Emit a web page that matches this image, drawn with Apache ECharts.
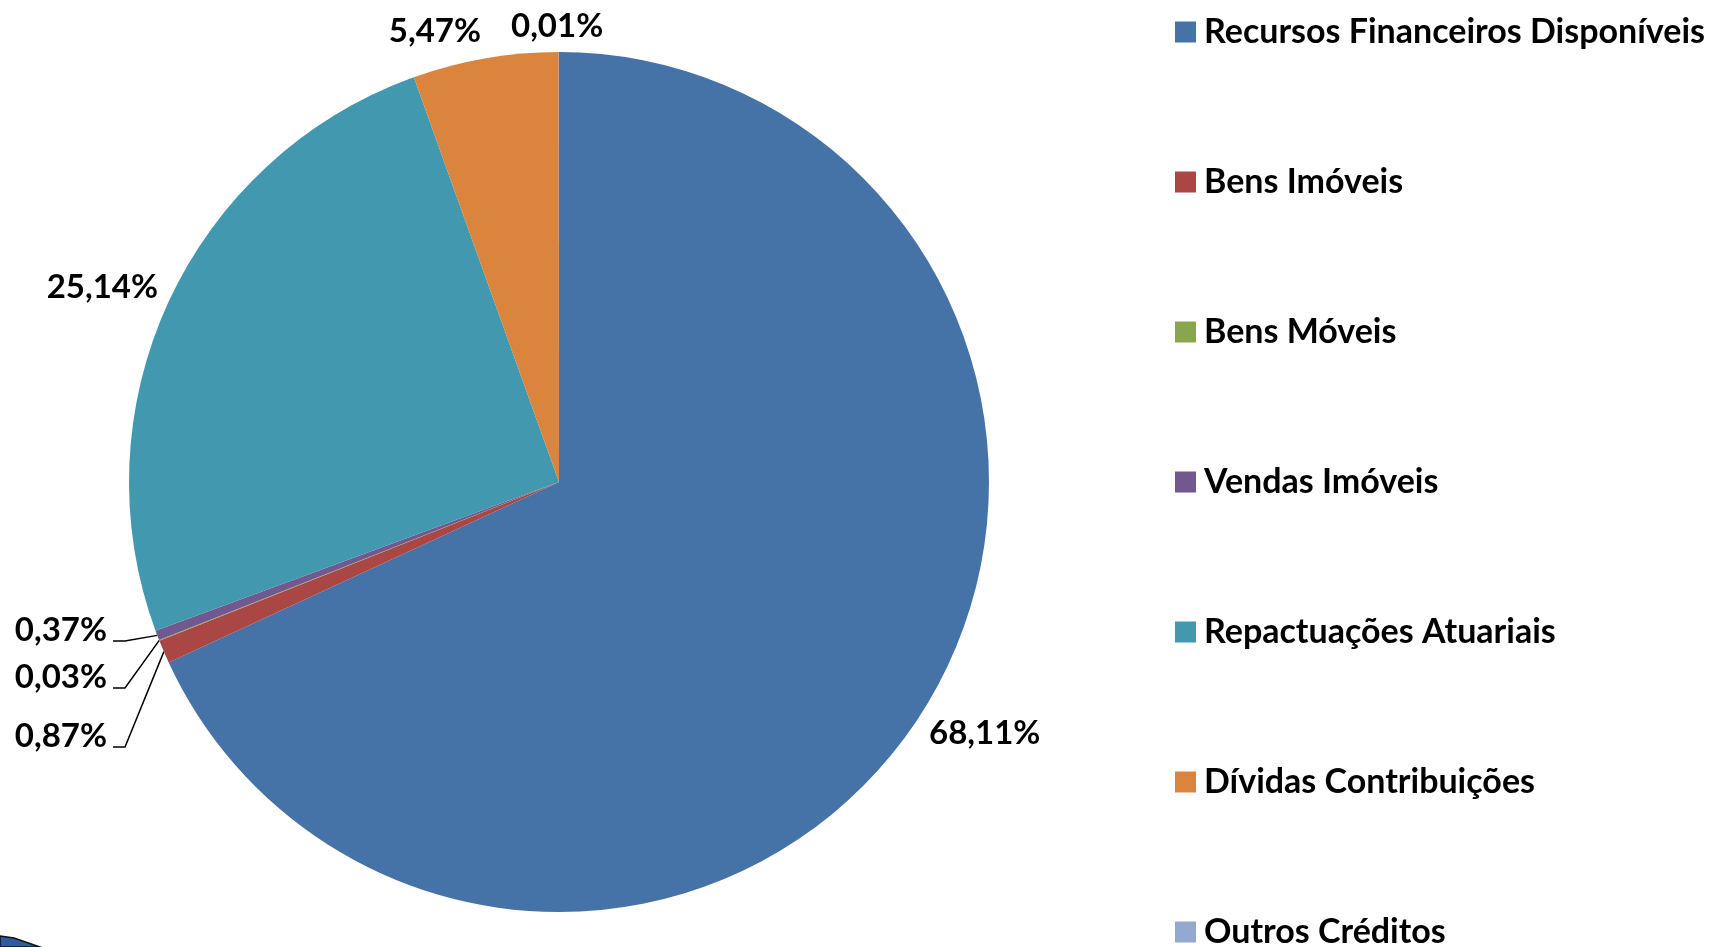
<!DOCTYPE html>
<html><head><meta charset="utf-8">
<script src="https://cdn.jsdelivr.net/npm/echarts@6/dist/echarts.min.js"></script>
<style>html,body{margin:0;padding:0;background:#fff}#c{width:1718px;height:947px}</style>
</head><body><div id="c"></div>
<script>
const categories = ['Recursos Financeiros Disponíveis','Bens Imóveis','Bens Móveis','Vendas Imóveis','Repactuações Atuariais','Dívidas Contribuições','Outros Créditos'];
const values = [68.11, 0.87, 0.03, 0.37, 25.14, 5.47, 0.01];
const colors = ['#4572A7','#AA4643','#89A54E','#71588F','#4198AF','#DB843D','#93A9CF'];
// label anchors (screen px): x, y, align, leader line
const labelAnchors = [
  [929, 733, 'left', false],
  [107, 736, 'right', true],
  [107, 677, 'right', true],
  [107, 630, 'right', true],
  [158, 287, 'right', false],
  [481, 31, 'right', false],
  [511, 26, 'left', false]
];
const FONT = 'Lato';
const chart = echarts.init(document.getElementById('c'));
const data = categories.map((n, i) => ({
  name: n, value: values[i],
  itemStyle: { color: colors[i] },
  labelLine: { show: labelAnchors[i][3] }
}));
chart.setOption({
  animation: false,
  color: colors,
  legend: {
    orient: 'vertical', left: 1175, top: 15, padding: 0, height: 1400,
    itemWidth: 21, itemHeight: 21, itemGap: 116, icon: 'rect',
    textStyle: { fontFamily: FONT, fontWeight: 'bold', fontSize: 34, color: '#000', padding: [0,0,0,3] },
    data: categories
  },
  graphic: [{
    type: 'polygon', silent: true,
    shape: { points: [[0,936],[14,938],[40,947],[0,947]] },
    style: { fill: '#2f5c9e', stroke: '#111', lineWidth: 1.5 }
  }],
  series: [{
    type: 'pie',
    center: [559, 482], radius: 430,
    startAngle: 90, clockwise: true,
    avoidLabelOverlap: false,
    data: data,
    label: {
      show: true, position: 'outside',
      formatter: p => p.value.toFixed(2).replace('.', ',') + '%',
      fontFamily: FONT, fontWeight: 'bold', fontSize: 33, color: '#000'
    },
    labelLine: { show: true, length: 10, length2: 10, lineStyle: { color: '#000', width: 1.5 } },
    labelLayout: function (params) {
      const a = labelAnchors[params.dataIndex];
      const res = { x: a[0], y: a[1], align: a[2], verticalAlign: 'middle' };
      if (a[3] && params.labelLinePoints) {
        const p0 = params.labelLinePoints[0];
        res.labelLinePoints = [p0, [a[0] + 18, a[1] + 11], [a[0] + 6, a[1] + 11]];
      }
      return res;
    },
    emphasis: { disabled: true }
  }]
});
</script></body></html>
